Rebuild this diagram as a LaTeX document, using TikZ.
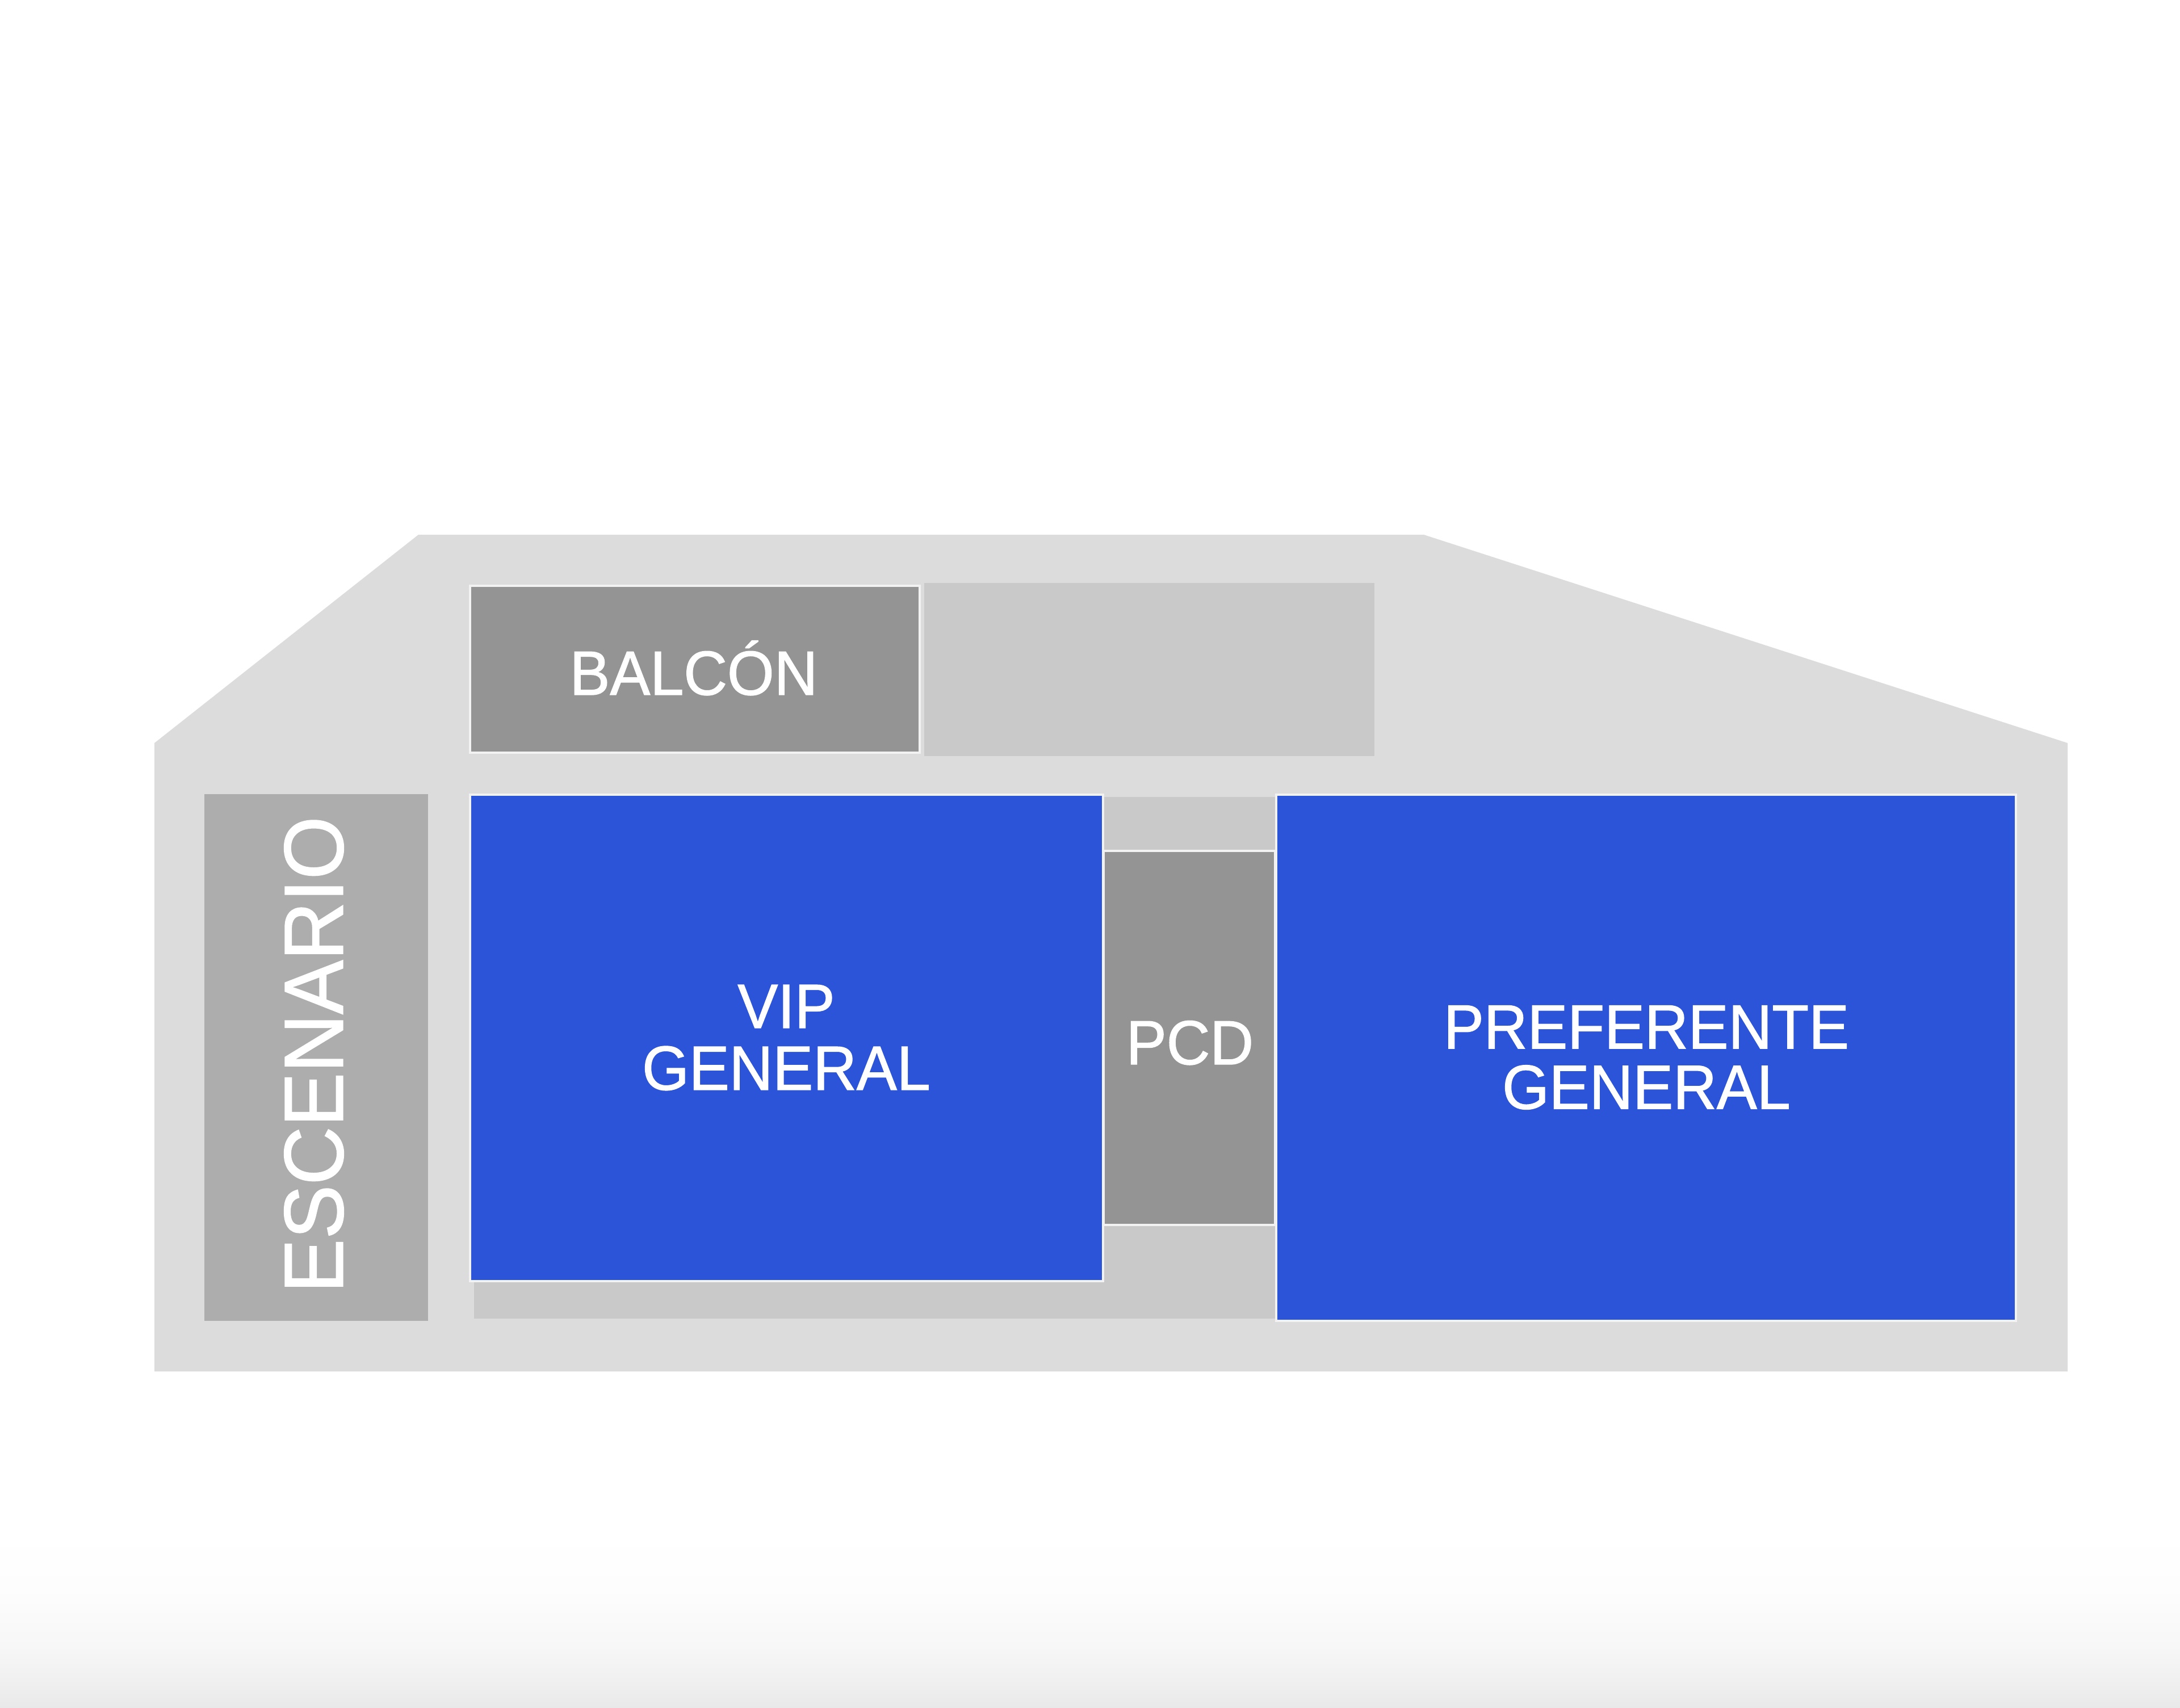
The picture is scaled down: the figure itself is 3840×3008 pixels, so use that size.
\documentclass[tikz,border=0pt]{standalone}
\usepackage{fontspec}
\setmainfont[FakeStretch=0.965,FakeBold=1.2]{Liberation Sans}
\definecolor{bandA}{HTML}{E9E9E9}
\definecolor{bandB}{HTML}{F0F0F0}
\definecolor{bandC}{HTML}{F7F7F7}
\definecolor{bandD}{HTML}{FDFDFD}
\definecolor{outerc}{HTML}{DCDCDC}
\definecolor{lightc}{HTML}{C9C9C9}
\definecolor{darkc}{HTML}{949494}
\definecolor{stagec}{HTML}{ADADAD}
\definecolor{bluec}{HTML}{2B54D9}
\definecolor{edgec}{HTML}{F2F2F2}
\pgfdeclareverticalshading{pagefoot}{100bp}{
  color(0bp)=(bandA); color(25bp)=(bandA); color(32.8bp)=(bandB); color(42.5bp)=(bandC);
  color(58.75bp)=(bandD); color(75bp)=(white); color(100bp)=(white)}
\tikzset{
  plainzone/.style={fill=#1,draw=none},
  framedzone/.style={fill=#1,draw=edgec,line width=0.035cm},
  label/.style={text=white,inner sep=0pt,align=center,font=\fontsize{31.3}{31}\selectfont},
  tightlabel/.style={label,font=\fontsize{31.3}{30.2}\selectfont},
  biglabel/.style={label,font=\fontsize{42}{42}\selectfont}
}
\begin{document}
\begin{tikzpicture}[x=0.01cm,y=-0.01cm]
\useasboundingbox (0,0) rectangle (3840,3008);
\fill[white] (0,0) rectangle (3840,3008);
\shade[shading=pagefoot] (0,2700) rectangle (3840,3008);
\fill[outerc] (272,1309) -- (737,942) -- (2508,942) -- (3642,1309) -- (3642,2416) -- (272,2416) -- cycle;
\path[plainzone=lightc] (1628,1027) rectangle (2421,1332);
\path[plainzone=lightc] (835,1404) rectangle (2246,2323);
\path[plainzone=stagec] (360,1399) rectangle (754,2327);
\draw[framedzone=darkc] (828,1032) rectangle (1620,1326);
\draw[framedzone=darkc] (1944,1499) rectangle (2246,2158);
\draw[framedzone=bluec] (828,1400) rectangle (1943,2257);
\draw[framedzone=bluec] (2248,1400) rectangle (3551,2327);
\node[label,anchor=base] (balcon) at (1222,1224) {BALCÓN};
\node[label] (vip) at (1385,1828) {VIP\\GENERAL};
\node[label,anchor=base] (pcd) at (2096,1875) {PCD};
\node[tightlabel] (pref) at (2900,1863) {PREFERENTE\\GENERAL};
\node[biglabel,rotate=90] (esc) at (553,1858) {ESCENARIO};
\end{tikzpicture}
\end{document}
